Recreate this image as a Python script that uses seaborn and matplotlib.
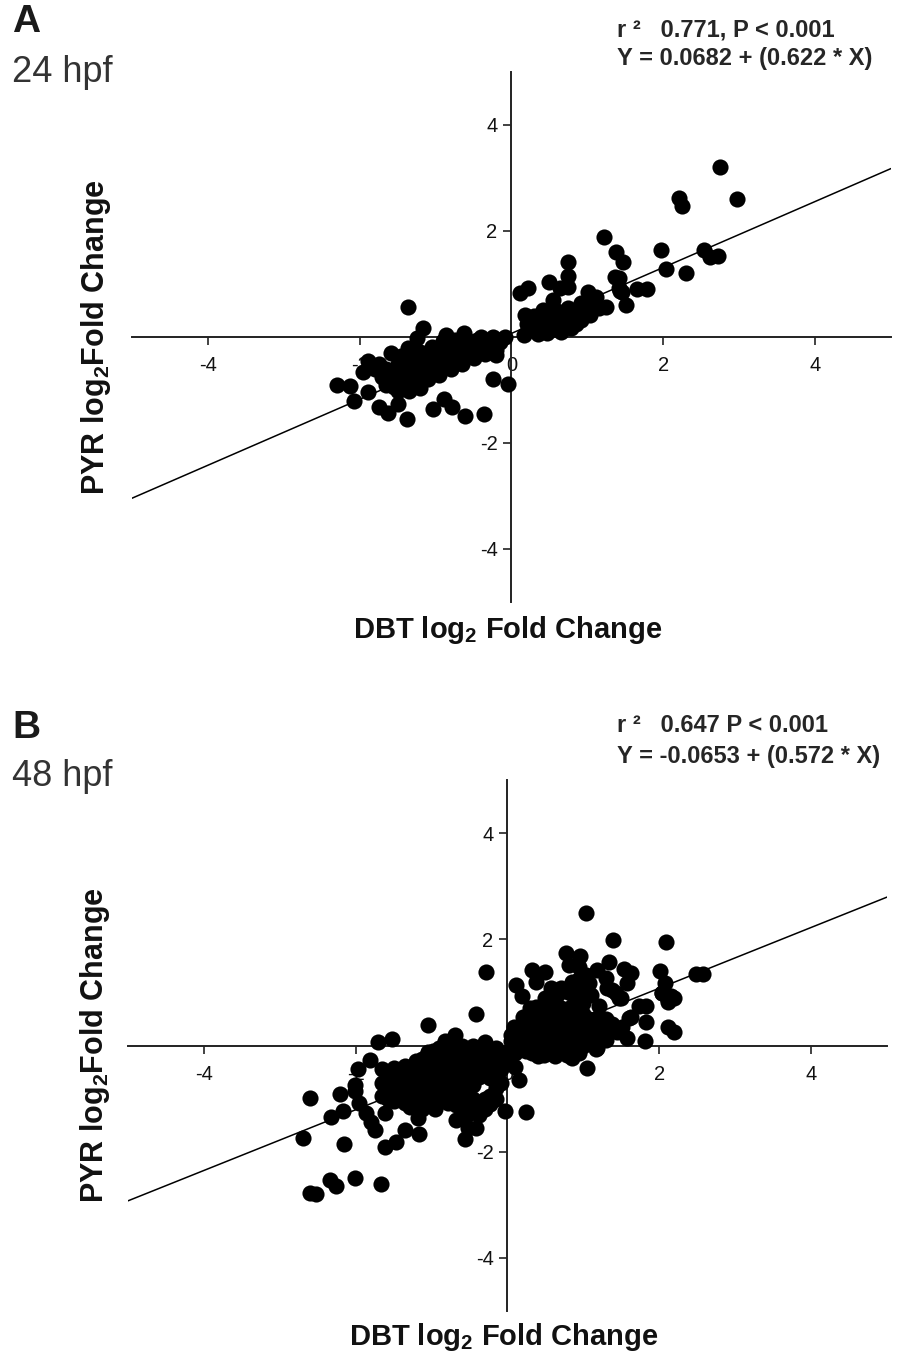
import pandas as pd
import matplotlib
matplotlib.use('Agg')
import matplotlib.pyplot as plt
import seaborn as sns

# ---- panel A (24 hpf): (DBT, PYR) log2 fold change
a_right_out = [(2.75, 3.21), (2.97, 2.60), (2.21, 2.62), (2.25, 2.47), (1.22, 1.89), (1.97, 1.64),
               (2.53, 1.64), (2.61, 1.51), (2.72, 1.53), (2.04, 1.28), (2.30, 1.21), (1.38, 1.60),
               (1.47, 1.41), (0.74, 1.41), (0.74, 1.15), (0.49, 1.04), (0.64, 0.93), (0.75, 0.95),
               (1.41, 1.11), (1.43, 0.86), (1.66, 0.90), (1.79, 0.90), (1.51, 0.60), (1.25, 0.57),
               (0.11, 0.83), (0.22, 0.93), (0.55, 0.70), (1.01, 0.85), (1.11, 0.75), (0.91, 0.64),
               (1.46, 0.85), (1.41, 0.92), (1.37, 1.13)]
a_right_band = [(0.18, 0.42), (0.41, 0.51), (0.51, 0.45), (0.74, 0.55), (0.82, 0.47), (1.04, 0.42),
                (0.91, 0.32), (0.78, 0.17), (0.61, 0.23), (0.47, 0.08), (0.25, 0.13), (0.16, 0.04),
                (0.34, 0.28), (0.64, 0.38), (0.30, 0.15), (0.40, 0.20), (0.55, 0.15), (0.70, 0.30),
                (0.85, 0.40), (0.95, 0.50), (0.45, 0.35), (0.60, 0.50), (0.30, 0.40), (0.35, 0.05),
                (0.65, 0.10), (0.85, 0.25), (1.00, 0.60), (0.50, 0.28), (0.72, 0.45), (1.15, 0.55),
                (0.20, 0.25), (0.28, 0.30), (0.38, 0.12), (0.58, 0.35), (0.68, 0.20), (0.80, 0.35),
                (0.90, 0.45), (0.45, 0.45)]
a_left_out = [(-1.36, 0.57), (-1.16, 0.17), (-1.24, -0.02), (-0.86, 0.04), (-0.63, 0.08), (-1.89, -0.45),
              (-1.96, -0.66), (-1.59, -0.30), (-1.37, -0.21), (-2.30, -0.91), (-2.13, -0.92), (-1.89, -1.04),
              (-2.08, -1.21), (-1.75, -1.32), (-1.63, -1.43), (-1.49, -1.26), (-1.38, -1.55), (-1.03, -1.36),
              (-0.89, -1.17), (-0.78, -1.32), (-0.61, -1.49), (-0.36, -1.45), (-0.25, -0.79), (-0.05, -0.89),
              (-0.21, -0.34)]
a_left_core = [(-1.65, -0.60), (-1.50, -0.50), (-1.35, -0.40), (-1.20, -0.28), (-1.05, -0.18), (-0.90, -0.08),
               (-0.75, -0.05), (-0.60, -0.04), (-0.45, -0.06), (-0.30, -0.08), (-0.15, -0.10),
               (-1.60, -0.80), (-1.45, -0.72), (-1.30, -0.65), (-1.15, -0.55), (-1.00, -0.45), (-0.85, -0.38),
               (-0.70, -0.30), (-0.55, -0.25), (-0.40, -0.20), (-0.25, -0.15),
               (-1.55, -0.95), (-1.40, -0.95), (-1.25, -0.90), (-1.10, -0.80), (-0.95, -0.72), (-0.80, -0.60),
               (-0.65, -0.50), (-0.50, -0.40), (-0.35, -0.32),
               (-1.80, -0.60), (-1.70, -0.75), (-1.65, -0.90), (-1.75, -0.50), (-1.45, -0.35),
               (-0.30, -0.15), (-0.20, -0.25), (-0.35, -0.30), (-0.15, -0.05), (-0.08, 0.00),
               (-0.40, 0.00), (-0.25, 0.00)]
a_left_core2 = [(-1.58, -0.70), (-1.43, -0.62), (-1.28, -0.50), (-1.13, -0.42), (-0.98, -0.32), (-0.83, -0.22),
                (-0.68, -0.17), (-0.53, -0.14), (-0.38, -0.12), (-1.48, -0.85), (-1.33, -0.80), (-1.18, -0.72),
                (-1.03, -0.60), (-0.88, -0.50), (-0.73, -0.42), (-0.58, -0.35), (-0.43, -0.30),
                (-1.50, -1.02), (-1.35, -1.02), (-1.20, -0.97)]

# ---- panel B (48 hpf)
b_left_out = [(-2.60, -0.98), (-2.21, -0.92), (-2.01, -0.85), (-2.33, -1.34), (-2.17, -1.23), (-1.95, -1.09),
              (-1.87, -1.28), (-1.80, -1.45), (-1.75, -1.60), (-2.69, -1.74), (-2.15, -1.85), (-1.62, -1.92),
              (-1.47, -1.81), (-1.35, -1.60), (-1.17, -1.66), (-1.62, -1.28), (-1.18, -1.36), (-0.95, -1.19),
              (-0.68, -1.40), (-0.56, -1.77), (-0.52, -1.55), (-0.41, -1.55), (-0.78, -1.09), (-2.60, -2.77),
              (-2.52, -2.80), (-2.34, -2.53), (-2.26, -2.64), (-2.01, -2.49), (-1.67, -2.60), (-0.42, 0.60),
              (-1.05, 0.38), (-1.71, 0.06), (-1.52, 0.13), (-0.03, -1.23), (-1.97, -0.44), (-1.81, -0.28),
              (-2.01, -0.75), (-0.82, 0.09), (-0.69, 0.19), (-0.29, 0.06), (-1.05, -0.13), (0.24, -1.26),
              (-0.28, 1.38)]
b_left_core = [(-1.65, -0.45), (-1.65, -0.70), (-1.65, -0.95),
               (-1.50, -0.42), (-1.50, -0.65), (-1.50, -0.88), (-1.50, -1.05),
               (-1.35, -0.38), (-1.35, -0.60), (-1.35, -0.85), (-1.35, -1.08),
               (-1.20, -0.30), (-1.20, -0.55), (-1.20, -0.80), (-1.20, -1.05),
               (-1.05, -0.15), (-1.05, -0.40), (-1.05, -0.65), (-1.05, -0.90), (-1.05, -1.10),
               (-0.90, -0.05), (-0.90, -0.30), (-0.90, -0.55), (-0.90, -0.80), (-0.90, -1.00),
               (-0.75, -0.03), (-0.75, -0.28), (-0.75, -0.52), (-0.75, -0.78), (-0.75, -1.05),
               (-0.60, 0.00), (-0.60, -0.25), (-0.60, -0.50), (-0.60, -0.75), (-0.60, -1.00), (-0.60, -1.20),
               (-0.45, 0.00), (-0.45, -0.25), (-0.45, -0.50), (-0.45, -0.75), (-0.45, -1.00), (-0.45, -1.25),
               (-0.30, -0.02), (-0.30, -0.25), (-0.30, -0.50), (-0.30, -1.00), (-0.30, -1.20),
               (-0.15, -0.05), (-0.15, -0.30), (-0.15, -0.55), (-0.15, -0.80), (-0.15, -1.00)]
b_left_core2 = [(-1.58, -0.55), (-1.58, -0.80), (-1.58, -1.00),
                (-1.43, -0.50), (-1.43, -0.75), (-1.43, -0.98),
                (-1.28, -0.45), (-1.28, -0.70), (-1.28, -0.95), (-1.28, -1.15),
                (-1.13, -0.25), (-1.13, -0.50), (-1.13, -0.75), (-1.13, -1.00), (-1.13, -1.20),
                (-0.98, -0.10), (-0.98, -0.35), (-0.98, -0.60), (-0.98, -0.85), (-0.98, -1.10),
                (-0.83, -0.15), (-0.83, -0.40), (-0.83, -0.65), (-0.83, -0.90),
                (-0.68, -0.12), (-0.68, -0.38), (-0.68, -0.62), (-0.68, -0.88), (-0.68, -1.12),
                (-0.53, -0.12), (-0.53, -0.38), (-0.53, -0.62), (-0.53, -0.88), (-0.53, -1.10), (-0.53, -1.30),
                (-0.38, -0.12), (-0.38, -0.38), (-0.38, -0.60), (-0.38, -1.10), (-0.38, -1.30),
                (-0.23, -0.12), (-0.23, -0.38), (-0.23, -0.62), (-0.23, -0.95), (-0.23, -1.10),
                (-0.08, -0.20), (-0.08, -0.45), (-0.08, -0.70)]
b_right_out = [(1.03, 2.49), (1.39, 1.98), (2.09, 1.94), (0.77, 1.74), (0.95, 1.68), (0.81, 1.51),
               (0.94, 1.47), (0.32, 1.42), (0.50, 1.38), (0.38, 1.19), (0.11, 1.13), (0.19, 0.94),
               (1.18, 1.43), (1.34, 1.58), (1.54, 1.45), (1.63, 1.36), (1.58, 1.17), (2.01, 1.40),
               (2.07, 1.17), (2.48, 1.34), (2.57, 1.34), (2.03, 0.98), (2.16, 0.91), (2.11, 0.81),
               (2.11, 0.34), (2.20, 0.25), (1.83, 0.75), (1.73, 0.74), (1.83, 0.45), (1.81, 0.09),
               (1.58, 0.15), (1.44, 0.25), (1.63, 0.53), (1.47, 0.89), (0.57, 1.08), (0.70, 1.09),
               (0.61, 0.81), (0.94, 1.26), (1.07, 1.17), (1.30, 1.28), (1.38, 1.04), (0.90, 0.91),
               (0.30, 0.70), (1.18, -0.04), (0.94, -0.15), (1.03, 1.32), (1.31, 1.09), (1.43, 0.98),
               (1.50, 0.89), (1.60, 0.51), (1.51, 0.34), (1.05, -0.43), (0.85, -0.23), (1.17, -0.06),
               (0.37, 0.72), (0.21, 0.53), (0.08, 0.34), (0.04, 0.09), (2.04, 0.98), (2.16, 0.94),
               (2.20, 0.89), (2.12, 0.85)]
b_right_core = [(0.10, 0.20), (0.10, 0.00), (0.10, -0.15),
                (0.25, 0.30), (0.25, 0.10), (0.25, -0.10),
                (0.40, 0.55), (0.40, 0.35), (0.40, 0.15), (0.40, -0.05), (0.40, -0.20),
                (0.55, 0.65), (0.55, 0.45), (0.55, 0.25), (0.55, 0.05), (0.55, -0.15),
                (0.70, 0.70), (0.70, 0.50), (0.70, 0.30), (0.70, 0.10), (0.70, -0.10),
                (0.85, 0.75), (0.85, 0.55), (0.85, 0.35), (0.85, 0.15), (0.85, -0.05),
                (1.00, 0.60), (1.00, 0.40), (1.00, 0.20), (1.00, 0.00),
                (1.15, 0.50), (1.15, 0.30), (1.15, 0.10),
                (1.30, 0.50), (1.30, 0.30), (1.30, 0.10),
                (0.10, -0.40), (0.15, -0.65), (0.00, -0.30),
                (0.65, 0.95), (0.80, 1.00), (0.95, 1.05), (1.10, 0.95), (0.85, 1.20),
                (1.00, 0.80), (1.20, 0.75), (0.50, 0.90)]
b_right_core2 = [(0.18, 0.10), (0.18, -0.05), (0.32, 0.45), (0.32, 0.20), (0.32, 0.00), (0.32, -0.15),
                 (0.48, 0.60), (0.48, 0.40), (0.48, 0.20), (0.48, 0.00), (0.48, -0.18),
                 (0.62, 0.60), (0.62, 0.38), (0.62, 0.18), (0.62, -0.02), (0.62, -0.20),
                 (0.78, 0.65), (0.78, 0.42), (0.78, 0.22), (0.78, 0.02), (0.78, -0.18),
                 (0.92, 0.68), (0.92, 0.45), (0.92, 0.25), (0.92, 0.05),
                 (1.08, 0.50), (1.08, 0.30), (1.08, 0.10), (1.22, 0.40), (1.22, 0.20), (1.38, 0.40),
                 (0.02, -0.10), (0.05, 0.20)]

# fitted lines: (intercept, slope)
fit_a = (0.0682, 0.622)
fit_b = (-0.0653, 0.572)
ticks = [-4, -2, 0, 2, 4]

df_a = pd.DataFrame(a_right_out + a_right_band + a_left_out + a_left_core + a_left_core2,
                    columns=['dbt', 'pyr'])
df_b = pd.DataFrame(b_left_out + b_left_core + b_left_core2 + b_right_out + b_right_core + b_right_core2,
                    columns=['dbt', 'pyr'])

sns.set_theme(style='white')
plt.rcParams['font.family'] = ['Liberation Sans', 'DejaVu Sans']
plt.rcParams['mathtext.fontset'] = 'custom'
plt.rcParams['mathtext.rm'] = 'Liberation Sans:bold'
plt.rcParams['mathtext.default'] = 'rm'
plt.rcParams['axes.unicode_minus'] = False

fig = plt.figure(figsize=(9.03, 13.57), dpi=100)
W, H = 903, 1357
ax_a = fig.add_axes([132 / W, 1 - 602 / H, 759 / W, 530 / H])
ax_b = fig.add_axes([128 / W, 1 - 1311 / H, 759 / W, 531 / H])


def draw_panel(ax, df, fit, xlab_y, ylab_x):
    ax.set_facecolor('white')
    sns.scatterplot(data=df, x='dbt', y='pyr', ax=ax, color='black', s=135,
                    linewidth=0, zorder=3)
    ax.axline((0, fit[0]), slope=fit[1], color='black', lw=1.1, zorder=4)
    ax.set_xlim(-5, 5)
    ax.set_ylim(-5, 5)
    for side in ['top', 'right']:
        ax.spines[side].set_visible(False)
    for side in ['left', 'bottom']:
        ax.spines[side].set_position(('data', 0))
        ax.spines[side].set_color('#222222')
        ax.spines[side].set_linewidth(1.4)
    ax.set_xticks(ticks)
    ax.set_yticks(ticks)
    ax.tick_params(axis='x', direction='out', length=6, width=1.2, color='#222222',
                   labelsize=14.5, pad=8, bottom=True, labelcolor='#111111')
    ax.tick_params(axis='y', direction='out', length=6, width=1.2, color='#222222',
                   labelsize=14.5, pad=4, left=True, labelcolor='#111111')
    ax.set_xlabel('')
    ax.set_ylabel('')
    ax.text(0.495, xlab_y, r'DBT log$_{2}$ Fold Change', transform=ax.transAxes,
            ha='center', va='center', fontsize=21, fontweight='bold', color='#111111')
    ax.text(ylab_x, 0.5, r'PYR log$_{2}$Fold Change', transform=ax.transAxes,
            ha='center', va='center', rotation=90, fontsize=22, fontweight='bold', color='#111111')


draw_panel(ax_a, df_a, fit_a, -0.053, -0.047)
draw_panel(ax_b, df_b, fit_b, -0.049, -0.044)

# panel letters, time points and regression statistics
fig.text(12 / W, 1 - 22 / H, 'A', fontsize=28, fontweight='bold', color='#1a1a1a', va='center')
fig.text(12 / W, 1 - 72 / H, '24 hpf', fontsize=26, color='#333333', va='center')
fig.text(617 / W, 1 - 30 / H, 'r ²   0.771, P < 0.001', fontsize=17, fontweight='bold', va='center')
fig.text(617 / W, 1 - 58 / H, 'Y = 0.0682 + (0.622 * X)', fontsize=17, fontweight='bold', va='center')

fig.text(12 / W, 1 - 728 / H, 'B', fontsize=28, fontweight='bold', color='#1a1a1a', va='center')
fig.text(12 / W, 1 - 776 / H, '48 hpf', fontsize=26, color='#333333', va='center')
fig.text(617 / W, 1 - 725 / H, 'r ²   0.647 P < 0.001', fontsize=17, fontweight='bold', va='center')
fig.text(617 / W, 1 - 757 / H, 'Y = -0.0653 + (0.572 * X)', fontsize=17, fontweight='bold', va='center')

plt.savefig('out.png', dpi=100, facecolor='white')
